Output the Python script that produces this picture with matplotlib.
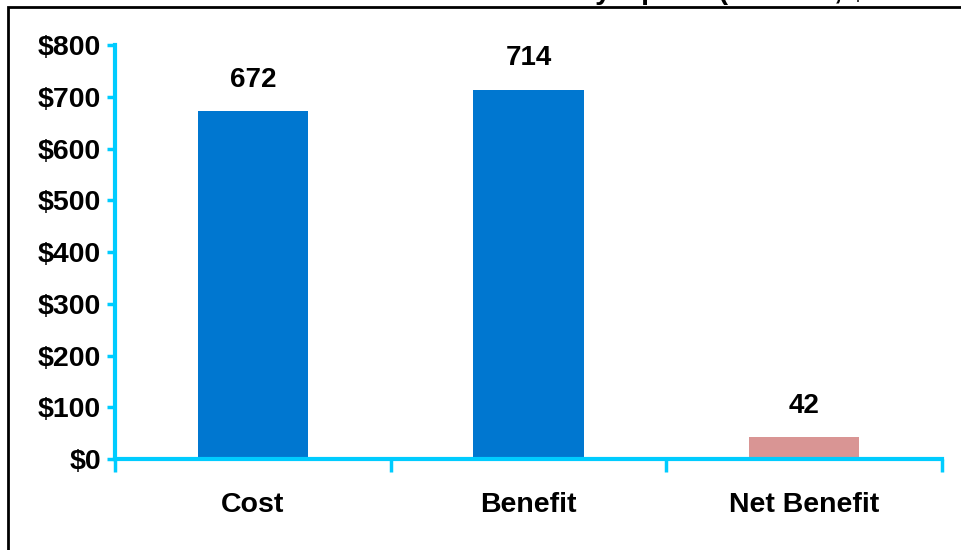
import matplotlib
matplotlib.use("Agg")
import matplotlib.pyplot as plt
from matplotlib.patches import Rectangle

categories = ["Cost", "Benefit", "Net Benefit"]
values = [672, 714, 42]
bar_colors = ["#0077D0", "#0077D0", "#D99594"]
yticks = [0, 100, 200, 300, 400, 500, 600, 700, 800]
ytick_labels = ["$0", "$100", "$200", "$300", "$400", "$500", "$600", "$700", "$800"]
title = "Total Costs and Benefits of Preferred Policy Option (Millions, $"

plt.rcParams['font.family'] = ['Liberation Sans', 'DejaVu Sans']

W, H = 962, 550
fig = plt.figure(figsize=(W/100, H/100), dpi=100)
ax = fig.add_axes([115/W, 1-459/H, (942-115)/W, (459-45)/H])

x = list(range(len(categories)))
ax.bar(x, values, width=0.4, color=bar_colors, zorder=2)
for xi, v in zip(x, values):
    ax.annotate(f"{v}", (xi, v), xytext=(0, 13), textcoords="offset points",
                ha="center", va="bottom", fontsize=20, fontweight="bold")

ax.set_xlim(-0.5, 2.5)
ax.set_ylim(0, 800)
ax.set_yticks(yticks)
ax.set_yticklabels(ytick_labels, fontsize=20.5, fontweight="bold")
ax.set_xticks([-0.5, 0.5, 1.5, 2.5])
ax.set_xticklabels([])
ax.set_xticks(x, minor=True)
ax.set_xticklabels(categories, minor=True, fontsize=20.5, fontweight="bold")
ax.tick_params(axis="x", which="minor", length=0, pad=24)
ax.tick_params(axis="x", which="major", length=9, width=2.5, color="#00CCFF", direction="out")
ax.tick_params(axis="y", length=6, width=2.5, color="#00CCFF", direction="out", pad=4)

for s in ["top", "right"]:
    ax.spines[s].set_visible(False)
for s in ["left", "bottom"]:
    ax.spines[s].set_color("#00CCFF")
    ax.spines[s].set_linewidth(3)

# outer frame (partially clipped by the figure edges)
fig.patches.append(Rectangle((8/W, -0.05), 1.2, 1 - 7/H + 0.05, transform=fig.transFigure,
                             fill=False, edgecolor="black", linewidth=2))
# title, clipped at the top edge as in the reference
fig.text(18/W, 1 - 5/H, title, ha="left", va="bottom", fontsize=20.5, fontweight="bold")

fig.savefig("out.png", dpi=100)
